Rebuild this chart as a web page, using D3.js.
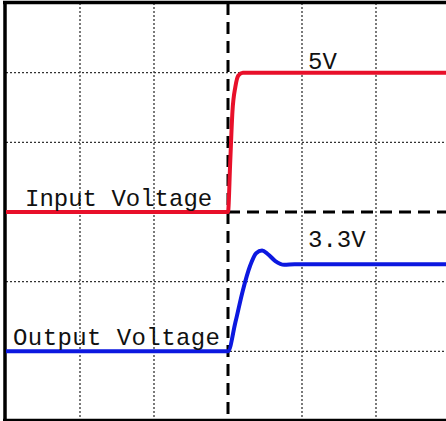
<!DOCTYPE html>
<html>
<head>
<meta charset="utf-8">
<script src="https://cdn.jsdelivr.net/npm/d3@7"></script>
<style>
  body { margin: 0; background: #fff; }
  .grid { stroke: #333; stroke-width: 1.3; stroke-dasharray: 2,2; }
  .center { stroke: #000; stroke-width: 3; stroke-dasharray: 12,7; }
  .frame { stroke: #000; stroke-width: 3.5; }
  .label { font-family: "Liberation Mono", monospace; font-size: 24px; fill: #111; }
</style>
</head>
<body>
<svg id="scope" width="446" height="421"></svg>
<script>
const svg = d3.select("#scope");

// time in divisions, voltages in volts
const inputTime = [0, 3.0, 3.03, 3.06, 3.1, 3.14, 3.2, 6];
const inputVolts = [0, 0, 1.8, 3.6, 4.5, 4.9, 5, 5];
const outputTime = [0, 3.0, 3.1, 3.2, 3.3, 3.38, 3.46, 3.54, 3.64, 3.76, 3.9, 6];
const outputVolts = [0, 0, 1.1, 2.3, 3.25, 3.72, 3.82, 3.68, 3.42, 3.28, 3.3, 3.3];
const labels = ["Input Voltage", "Output Voltage", "5V", "3.3V"];

const x = d3.scaleLinear().domain([0, 6]).range([6, 450]);
const yDiv = d3.scaleLinear().domain([0, 6]).range([421, 3]);
const yIn = d3.scaleLinear().domain([0, 5]).range([yDiv(3), yDiv(5)]);
const yOut = d3.scaleLinear().domain([0, 3.3]).range([yDiv(1), yDiv(2.25)]);

// grid
svg.selectAll(".vgrid").data(d3.range(1, 7).filter(d => d !== 3)).join("line")
  .attr("class", "grid")
  .attr("x1", d => x(d)).attr("x2", d => x(d))
  .attr("y1", yDiv(6)).attr("y2", yDiv(0));
svg.selectAll(".hgrid").data(d3.range(1, 6).filter(d => d !== 3)).join("line")
  .attr("class", "grid")
  .attr("x1", x(0)).attr("x2", x(6))
  .attr("y1", d => yDiv(d)).attr("y2", d => yDiv(d));
// left half of the middle horizontal line is dotted
svg.append("line").attr("class", "grid")
  .attr("x1", x(0)).attr("x2", x(3)).attr("y1", yDiv(3)).attr("y2", yDiv(3));

// trigger lines
svg.append("line").attr("class", "center")
  .attr("x1", x(3)).attr("x2", x(3)).attr("y1", yDiv(6)).attr("y2", yDiv(0));
svg.append("line").attr("class", "center")
  .attr("x1", x(3)).attr("x2", x(6)).attr("y1", yDiv(3)).attr("y2", yDiv(3));

// frame
svg.append("line").attr("class", "frame")
  .attr("x1", x(0) - 1).attr("x2", x(0) - 1).attr("y1", yDiv(6)).attr("y2", yDiv(0));
svg.append("line").attr("class", "frame")
  .attr("x1", x(0) - 3).attr("x2", 446).attr("y1", yDiv(6) - 0.5).attr("y2", yDiv(6) - 0.5);
svg.append("line").attr("class", "frame").style("stroke-width", 2.5)
  .attr("x1", x(0) - 3).attr("x2", 446).attr("y1", 420).attr("y2", 420);

// traces
const lineIn = d3.line().x((d, i) => x(inputTime[i])).y(d => yIn(d)).curve(d3.curveMonotoneX);
const lineOut = d3.line().x((d, i) => x(outputTime[i])).y(d => yOut(d)).curve(d3.curveMonotoneX);

svg.append("path").datum(inputVolts)
  .attr("d", lineIn).attr("fill", "none")
  .attr("stroke", "#e8102a").attr("stroke-width", 4);
svg.append("path").datum(outputVolts)
  .attr("d", lineOut).attr("fill", "none")
  .attr("stroke", "#0c18e0").attr("stroke-width", 4);

// labels
svg.append("text").attr("class", "label")
  .attr("x", 25).attr("y", yIn(0) - 6).text(labels[0]);
svg.append("text").attr("class", "label")
  .attr("x", 13).attr("y", yOut(0) - 6).attr("textLength", 207).text(labels[1]);
svg.append("text").attr("class", "label")
  .attr("x", 308).attr("y", yIn(5) - 4).text(labels[2]);
svg.append("text").attr("class", "label")
  .attr("x", 308).attr("y", yOut(3.3) - 17).text(labels[3]);
</script>
</body>
</html>
